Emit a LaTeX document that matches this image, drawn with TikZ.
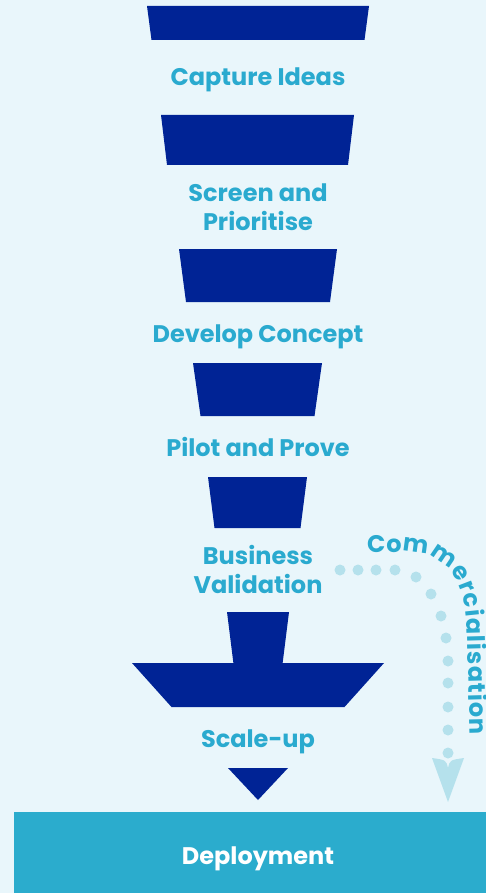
\documentclass[tikz,border=0pt]{standalone}
\usepackage{fontspec}
\setmainfont{Poppins}
\usetikzlibrary{decorations.text}
\definecolor{bgblue}{HTML}{E9F6FB}
\definecolor{stageblue}{HTML}{002395}
\definecolor{labelblue}{HTML}{2AAACF}
\definecolor{deployblue}{HTML}{2BACCD}
\definecolor{dotblue}{HTML}{B5E1EC}
\newcommand{\labelfont}{\fontsize{12}{14.5}\selectfont\bfseries}
% centre x, top y, bottom y, top half width, bottom half width
\newcommand{\stagepart}[5]{%
	\fill[stageblue] (#1-#4,#2) -- (#1+#4,#2) -- (#1+#5,#3) -- (#1-#5,#3) -- cycle;}

\begin{document}
\begin{tikzpicture}[x=0.5pt,y=-0.5pt,
	stage text/.style = {font=\labelfont, text=labelblue, align=center, anchor=base, inner sep=0pt}]
	
	\fill[bgblue] (0,0) rectangle (486,893);
	
	% funnel
	\stagepart{258}{6}{40}{111}{106.5}
	\stagepart{257.5}{115}{165}{96.5}{90.5}
	\stagepart{258}{249}{302}{79}{72}
	\stagepart{257.5}{363}{416}{64.5}{57}
	\stagepart{257.5}{477}{528}{49.5}{43}
	\stagepart{258}{612}{664}{31}{24.5}
	\stagepart{258}{663}{707}{126}{86.5}
	\fill[stageblue] (228,768) -- (288,768) -- (258,800) -- cycle;
	
	% base anchor sits on the last line
	\node[stage text] (l1) at (258,86) {Capture Ideas};
	\node[stage text] (l2) at (258,231) {Screen and\\Prioritise};
	\node[stage text] (l3) at (258,342) {Develop Concept};
	\node[stage text] (l4) at (258,456) {Pilot and Prove};
	\node[stage text] (l5) at (258,593) {Business\\Validation};
	\node[stage text] (l6) at (258,747) {Scale-up};
	
	\fill[deployblue] (14,812) rectangle (486,893);
	\node[stage text, text=white] (deploy) at (258,864) {Deployment};
	
	% commercialisation
	\foreach \p in {(340,570),(358,570),(376,570),(395,570),(416,577),(431,594),(441,616),
		(446,638),(448,661),(448,683),(448,707),(448,730),(448,753)}
		\fill[dotblue] \p circle[radius=5.5];
	\fill[dotblue] (432,758) .. controls (446,760) .. (448,768) .. controls (450,760) .. (464,758)
		-- (448,802) -- cycle;
	\path[decorate, decoration={text along path, text align={fit to path},
		text={|\labelfont\color{labelblue}|Commercialisation}}]
		(367,552) -- (405,552) .. controls (442,552) and (466,576) .. (467,625) -- (470,735);
\end{tikzpicture}
\end{document}
